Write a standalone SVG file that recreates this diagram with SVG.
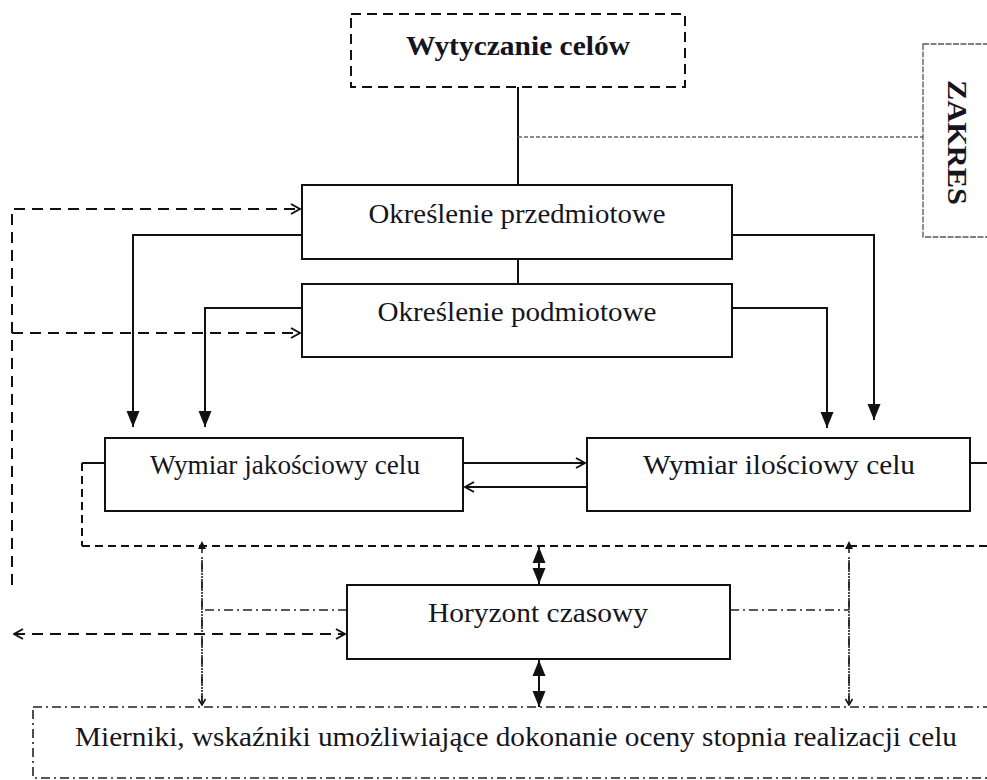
<svg xmlns="http://www.w3.org/2000/svg" width="987" height="780" viewBox="0 0 987 780">
<style>
.box{fill:#fff;stroke:#111;stroke-width:2}
.dbox{fill:#fff;stroke:#111;stroke-width:2;stroke-dasharray:10,6}
.ddbox{fill:#fff;stroke:#222;stroke-width:1.6;stroke-dasharray:9,4,2,4}
.zbox{fill:#fff;stroke:#556;stroke-width:1.3;stroke-dasharray:6,1.5}
.t{font-family:"Liberation Serif","Times New Roman",serif;font-size:27px;fill:#151520;text-anchor:middle}
.b{font-weight:bold}
.s{fill:none;stroke:#111;stroke-width:2}
.d{fill:none;stroke:#111;stroke-width:2;stroke-dasharray:11,7}
.d2{fill:none;stroke:#111;stroke-width:2;stroke-dasharray:8,5}
.dd{fill:none;stroke:#222;stroke-width:1.6;stroke-dasharray:9,4,2,4}
.dot{fill:none;stroke:#667;stroke-width:1.3;stroke-dasharray:4,2}
</style>
<defs>
<marker id="fa" viewBox="0 0 16 14" refX="16" refY="7" markerWidth="16" markerHeight="14" markerUnits="userSpaceOnUse" orient="auto-start-reverse">
<path d="M0,0.5 L16,7 L0,13.5 z" fill="#111"/>
</marker>
<marker id="oa" viewBox="0 0 12 12" refX="11" refY="6" markerWidth="12" markerHeight="12" markerUnits="userSpaceOnUse" orient="auto-start-reverse">
<path d="M2,1 L11,6 L2,11" fill="none" stroke="#111" stroke-width="2"/>
</marker>
<marker id="sa" viewBox="0 0 8 8" refX="8" refY="4" markerWidth="8" markerHeight="8" markerUnits="userSpaceOnUse" orient="auto">
<path d="M0,0 L8,4 L0,8 z" fill="#111"/>
</marker>
<marker id="sv" viewBox="0 0 8 8" refX="7" refY="4" markerWidth="8" markerHeight="8" markerUnits="userSpaceOnUse" orient="auto">
<path d="M1,0.5 L7,4 L1,7.5" fill="none" stroke="#111" stroke-width="1.6"/>
</marker>
</defs>

<g id="connectors">
<line class="s" x1="518" y1="87" x2="518" y2="185"/>
<line class="dot" x1="518" y1="137" x2="923" y2="137"/>
<line class="s" x1="518" y1="259" x2="518" y2="284"/>
<polyline class="d" points="12,585 12,209 300,209" marker-end="url(#oa)"/>
<line class="d" x1="12" y1="333" x2="300" y2="333" marker-end="url(#oa)"/>
<polyline class="s" points="302,235 133,235 133,427" marker-end="url(#fa)"/>
<polyline class="s" points="302,308 205,308 205,427" marker-end="url(#fa)"/>
<polyline class="s" points="732,235 874,235 874,420" marker-end="url(#fa)"/>
<polyline class="s" points="732,308 827,308 827,428" marker-end="url(#fa)"/>
<line class="s" x1="463" y1="463" x2="585" y2="463" marker-end="url(#oa)"/>
<line class="s" x1="587" y1="487" x2="465" y2="487" marker-end="url(#oa)"/>
<line class="s" x1="82" y1="463" x2="105" y2="463"/>
<line class="d2" x1="82" y1="463" x2="82" y2="546"/>
<line class="d2" x1="82" y1="546" x2="987" y2="546"/>
<line class="s" x1="970" y1="463" x2="987" y2="463"/>
<line class="s" x1="539" y1="547" x2="539" y2="584" marker-start="url(#fa)" marker-end="url(#fa)"/>
<line class="s" x1="539" y1="660" x2="539" y2="707" marker-start="url(#fa)" marker-end="url(#fa)"/>
<line class="dd" x1="202" y1="705" x2="202" y2="541" marker-end="url(#sa)"/>
<line class="dd" x1="202" y1="560" x2="202" y2="705" marker-end="url(#sv)"/>
<line class="dd" x1="849" y1="705" x2="849" y2="541" marker-end="url(#sa)"/>
<line class="dd" x1="849" y1="560" x2="849" y2="705" marker-end="url(#sv)"/>
<line class="dd" x1="347" y1="610" x2="202" y2="610"/>
<line class="dd" x1="730" y1="610" x2="849" y2="610"/>
<line class="d" x1="14" y1="634" x2="345" y2="634" marker-start="url(#oa)" marker-end="url(#oa)"/>
</g>

<g id="wytyczanie">
<rect class="dbox" x="351" y="14" width="334" height="73"/>
<text class="t b" x="518" y="55" textLength="224" lengthAdjust="spacingAndGlyphs">Wytyczanie celów</text>
</g>
<g id="zakres">
<rect class="zbox" x="923" y="44" width="80" height="193"/>
<text class="t b" style="text-anchor:start" transform="translate(948,80) rotate(90)" textLength="125" lengthAdjust="spacingAndGlyphs">ZAKRES</text>
</g>
<g id="przedmiotowe">
<rect class="box" x="302" y="185" width="430" height="74"/>
<text class="t" x="517" y="223" textLength="297" lengthAdjust="spacingAndGlyphs">Określenie przedmiotowe</text>
</g>
<g id="podmiotowe">
<rect class="box" x="302" y="284" width="430" height="73"/>
<text class="t" x="517" y="321" textLength="279" lengthAdjust="spacingAndGlyphs">Określenie podmiotowe</text>
</g>
<g id="jakosciowy">
<rect class="box" x="105" y="438" width="358" height="73"/>
<text class="t" x="285" y="474" textLength="270" lengthAdjust="spacingAndGlyphs">Wymiar jakościowy celu</text>
</g>
<g id="ilosciowy">
<rect class="box" x="587" y="438" width="383" height="73"/>
<text class="t" x="779" y="474" textLength="272" lengthAdjust="spacingAndGlyphs">Wymiar ilościowy celu</text>
</g>
<g id="horyzont">
<rect class="box" x="347" y="585" width="383" height="74"/>
<text class="t" x="538" y="622" textLength="220" lengthAdjust="spacingAndGlyphs">Horyzont czasowy</text>
</g>
<g id="mierniki">
<rect class="ddbox" x="33" y="707" width="980" height="71"/>
<text class="t" x="516" y="746" style="font-size:28px" textLength="882" lengthAdjust="spacingAndGlyphs">Mierniki, wskaźniki umożliwiające dokonanie oceny stopnia realizacji celu</text>
</g>
</svg>
